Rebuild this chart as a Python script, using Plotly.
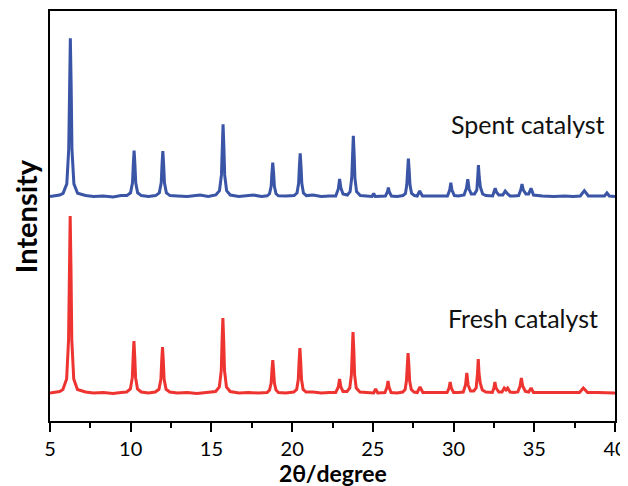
import plotly.graph_objects as go

# 2-theta (degree) and intensity (a.u.)
fresh_2theta = [5.0, 5.3, 5.6, 5.80, 6.03, 6.15, 6.20, 6.25, 6.30, 6.35, 6.47, 6.70,
    7.2, 7.7, 8.3, 8.9, 9.4, 9.75, 9.98, 10.10, 10.15, 10.20, 10.25, 10.30, 10.42, 10.65,
    11.1, 11.52, 11.75, 11.87, 11.92, 11.97, 12.02, 12.07, 12.19, 12.42,
    12.9, 13.5, 14.1, 14.7, 15.26, 15.49, 15.61, 15.66, 15.71, 15.76, 15.81, 15.93, 16.16,
    16.7, 17.3, 17.9, 18.45, 18.6, 18.7, 18.75, 18.8, 18.85, 18.9, 19.0, 19.15,
    19.6, 20.1, 20.28, 20.38, 20.43, 20.48, 20.53, 20.58, 20.68, 20.86,
    21.3, 21.8, 22.3, 22.7, 22.86, 22.94, 23.02, 23.15,
    23.4, 23.57, 23.67, 23.72, 23.77, 23.82, 23.87, 23.97, 24.2,
    24.6, 25.05, 25.17, 25.3, 25.75, 25.88, 25.94, 26.0, 26.13,
    26.5, 26.85, 27.0, 27.08, 27.13, 27.18, 27.23, 27.28, 27.38, 27.55,
    27.75, 27.92, 28.1, 28.5, 29.1, 29.6, 29.72, 29.79, 29.86, 30.0,
    30.3, 30.6, 30.74, 30.82, 30.9, 31.05, 31.25, 31.4, 31.48, 31.53, 31.58, 31.65, 31.78, 32.0,
    32.4, 32.5, 32.56, 32.63, 32.8, 33.0, 33.14, 33.25, 33.35, 33.5,
    33.75, 33.98, 34.12, 34.2, 34.28, 34.45, 34.65, 34.8, 34.95,
    35.5, 36.2, 36.9, 37.4, 37.8, 38.04, 38.3, 38.9, 39.5, 40.0]
fresh_intensity = [36, 37, 37.5, 39.5, 50, 89, 160, 213, 160, 89, 50, 39.5,
    37, 36, 36.5, 35.5, 36.5, 37, 40, 51.6, 72, 88, 72, 51.6, 40, 37,
    36, 37, 39.7, 49.8, 68, 82, 68, 49.8, 39.7, 37,
    36, 36.5, 35.5, 36.5, 37.5, 42, 58.5, 88.5, 111, 88.5, 58.5, 42, 37.5,
    36, 36.5, 36, 36.5, 39, 46, 59, 69, 59, 46, 39, 36.5,
    36, 37, 39.6, 49.5, 67.5, 81, 67.5, 49.5, 39.6, 37,
    37, 36, 36.5, 36.5, 42, 50, 42, 37.5,
    37.5, 41, 54, 79, 97, 79, 54, 41, 37,
    36.5, 36, 40, 36, 36.5, 42, 48, 42, 36.5,
    36, 37, 39.5, 48, 64, 76, 64, 48, 39.5, 37,
    36.5, 42, 36.5, 36.5, 36, 36.5, 41, 47, 41, 36.5,
    36.5, 37, 44, 56, 44, 38, 38, 41, 55, 70, 55, 46, 39, 37,
    36.5, 41, 47, 41, 37, 37, 41, 39, 41, 37,
    36.5, 37, 43, 51, 43, 37.5, 37, 41, 36.5,
    36.5, 36, 36.5, 36, 36.5, 41, 36.5, 36.5, 36, 36]

spent_2theta = [5.0, 5.3, 5.6, 5.81, 6.04, 6.16, 6.21, 6.26, 6.31, 6.36, 6.48, 6.71,
    7.2, 7.7, 8.3, 8.9, 9.4, 9.76, 9.99, 10.11, 10.16, 10.21, 10.26, 10.31, 10.43, 10.66,
    11.1, 11.54, 11.77, 11.89, 11.94, 11.99, 12.04, 12.09, 12.21, 12.44,
    12.9, 13.5, 14.3, 14.8, 15.27, 15.5, 15.62, 15.67, 15.72, 15.77, 15.82, 15.94, 16.17,
    16.7, 17.6, 18.1, 18.45, 18.6, 18.7, 18.75, 18.8, 18.85, 18.9, 19.0, 19.15,
    19.6, 20.12, 20.3, 20.4, 20.45, 20.5, 20.55, 20.6, 20.7, 20.88,
    21.3, 21.8, 22.3, 22.7, 22.86, 22.94, 23.02, 23.15,
    23.42, 23.59, 23.69, 23.74, 23.79, 23.84, 23.89, 23.99, 24.22,
    24.6, 24.95, 25.05, 25.15, 25.78, 25.9, 25.96, 26.02, 26.15,
    26.5, 26.87, 27.02, 27.1, 27.15, 27.2, 27.25, 27.3, 27.4, 27.57,
    27.75, 27.9, 28.07, 28.5, 29.1, 29.62, 29.76, 29.83, 29.9, 30.05,
    30.3, 30.65, 30.8, 30.88, 30.96, 31.1, 31.3, 31.44, 31.49, 31.54, 31.59, 31.66, 31.8, 32.0,
    32.42, 32.52, 32.58, 32.65, 32.8, 33.05, 33.2, 33.35, 33.5,
    33.75, 34.03, 34.16, 34.24, 34.32, 34.48, 34.65, 34.8, 34.95,
    35.5, 36.2, 36.9, 37.4, 37.85, 38.1, 38.35, 38.9, 39.35, 39.5, 39.65, 40.0]
spent_intensity = [232.5, 233.5, 234, 235.7, 245.1, 279.9, 343.1, 390.7, 343.1, 279.9, 245.1, 235.7,
    233.5, 232.5, 233, 232, 233.5, 233.4, 236.2, 246.3, 264.7, 278.3, 264.7, 246.3, 236.2, 233.4,
    232.5, 233.4, 236.1, 246.2, 264.4, 278, 264.4, 246.2, 236.1, 233.4,
    233, 232.5, 234, 232.5, 234, 238.3, 254.1, 282.9, 304.7, 282.9, 254.1, 238.3, 234,
    232.5, 234, 232.5, 233.2, 235.2, 242.7, 256.3, 266.3, 256.3, 242.7, 235.2, 233.2,
    233, 233.4, 236, 245.4, 262.6, 275.7, 262.6, 245.4, 236, 233.4,
    234, 232.5, 233, 233, 240, 250, 241, 235,
    234, 237.4, 250.8, 275.2, 293.3, 275.2, 250.8, 237.4, 233.5,
    233, 232.5, 235.5, 232.5, 233, 237, 241.3, 237, 233,
    232.5, 233.5, 235.5, 244, 259, 270.3, 259, 244, 235.5, 233.5,
    233, 238, 233, 233, 232.5, 233, 239, 246.3, 239, 233.5,
    233, 234, 241, 249.7, 240, 235, 235, 239, 250, 264, 252, 242, 235, 233.5,
    233, 237, 240.7, 237, 234, 234, 238, 235, 233,
    233, 233.5, 239, 245, 239, 235, 235, 240.7, 234,
    233, 232.5, 233, 232.5, 233, 238.3, 233, 233, 233, 236, 233, 232.5]

series_names = ["Fresh catalyst", "Spent catalyst"]
x_ticks = [5, 10, 15, 20, 25, 30, 35, 40]

FONT = "Lato, Carlito, Open Sans, sans-serif"

fig = go.Figure()
fig.add_trace(go.Scatter(x=fresh_2theta, y=fresh_intensity, mode="lines",
                         name=series_names[0], line=dict(color="#EE3430", width=3)))
fig.add_trace(go.Scatter(x=spent_2theta, y=spent_intensity, mode="lines",
                         name=series_names[1], line=dict(color="#3A54A6", width=3)))

fig.add_annotation(x=0.973, y=0.251, xref="paper", yref="paper", text=series_names[0],
                   showarrow=False, xanchor="right", yanchor="middle",
                   font=dict(family=FONT, size=25, color="#111111"))
fig.add_annotation(x=0.986, y=0.724, xref="paper", yref="paper", text=series_names[1],
                   showarrow=False, xanchor="right", yanchor="middle",
                   font=dict(family=FONT, size=25, color="#111111"))

# axis titles
fig.add_annotation(x=0.5, y=-0.127, xref="paper", yref="paper", text="<b>2θ/degree</b>",
                   showarrow=False, xanchor="center", yanchor="middle",
                   borderpad=0,
                   font=dict(family=FONT, size=23, color="black"))
fig.add_annotation(x=-0.044, y=0.5, xref="paper", yref="paper", text="<b>Intensity</b>",
                   showarrow=False, xanchor="center", yanchor="middle", textangle=-90,
                   font=dict(family=FONT, size=29, color="black"))

# page body adds an 8px offset, so the figure is 8px smaller and shifted accordingly
fig.update_layout(
    width=620, height=478,
    margin=dict(l=42, r=13, t=3, b=65, autoexpand=False),
    paper_bgcolor="white", plot_bgcolor="white",
    showlegend=False,
    font=dict(family=FONT, color="black"),
    xaxis=dict(
        range=[5, 40], tickmode="array", tickvals=x_ticks, ticktext=[str(t) for t in x_ticks],
        ticks="outside", ticklen=9, tickwidth=2, tickcolor="black",
        minor=dict(dtick=2.5, tick0=5, ticks="outside", ticklen=5, tickwidth=2, tickcolor="black"),
        showline=True, linewidth=2, linecolor="black", mirror=True,
        showgrid=False, zeroline=False, automargin=False,
        tickfont=dict(family=FONT, size=20, color="black"),
    ),
    yaxis=dict(
        range=[8, 418], showticklabels=False, ticks="",
        showline=True, linewidth=2, linecolor="black", mirror=True,
        showgrid=False, zeroline=False, automargin=False,
    ),
)

fig.write_html("out.html")
